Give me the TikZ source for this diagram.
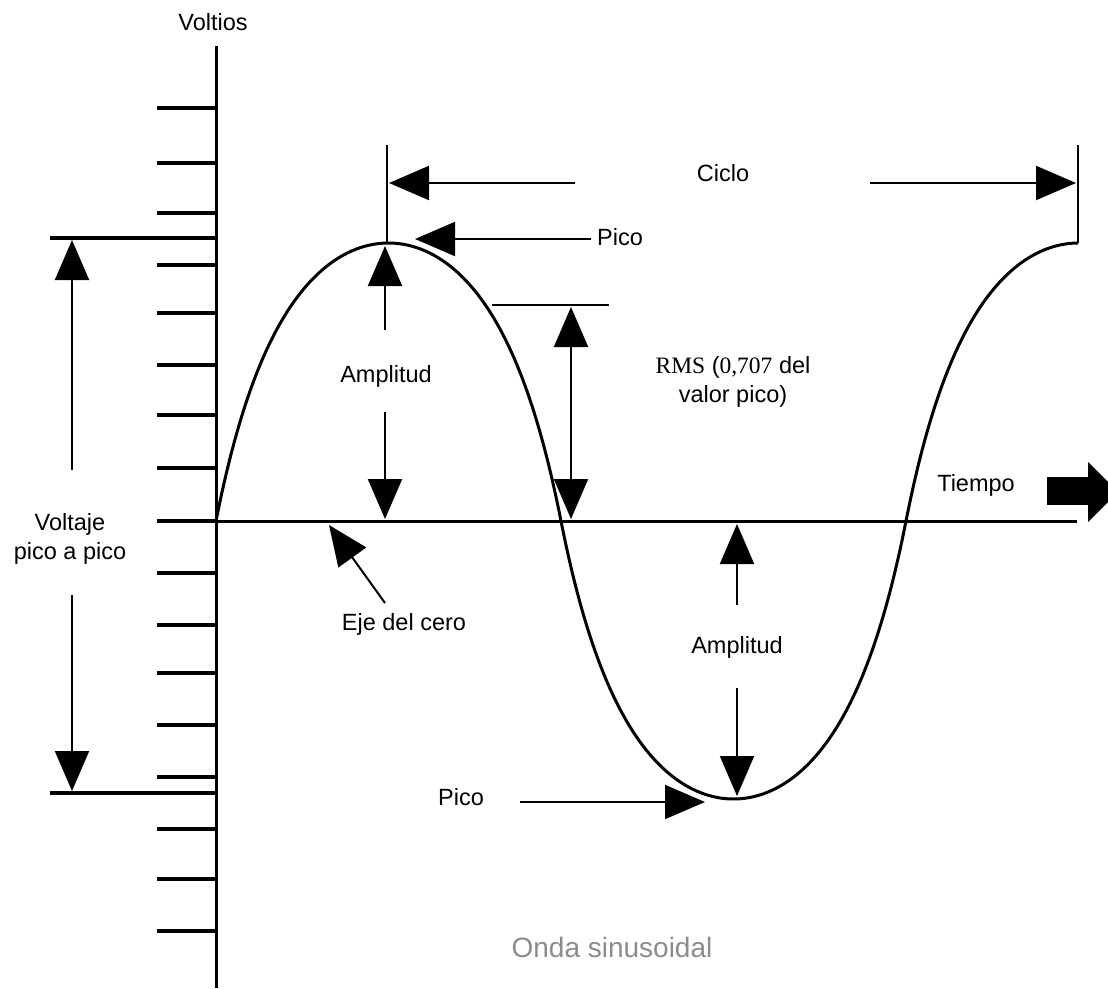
\documentclass[tikz,border=0pt]{standalone}
\usepackage{fontspec}
\setmainfont{Liberation Sans}
\newfontfamily\rmsfont{Liberation Serif}
\usetikzlibrary{arrows.meta}

\begin{document}
\begin{tikzpicture}[x=1pt, y=-1pt,
    lbl/.style={font=\fontsize{23.5}{29}\selectfont, align=center, inner sep=0pt},
    pointer/.style={-{Triangle[length=40pt, width=34pt]}, line width=2pt},
    twoway/.style={{Triangle[length=40pt, width=34pt]}-{Triangle[length=40pt, width=34pt]}, line width=2pt},
    tickline/.style={line width=3.5pt}]
    \useasboundingbox (0,0) rectangle (1108,988);
    % Draw axes
    \coordinate (vtop) at (216, 46);
    \coordinate (vbot) at (216, 988);
    \coordinate (origin) at (216, 521);
    \coordinate (hend) at (1077, 521);
    \coordinate (ppos) at (50, 238);
    \coordinate (pneg) at (50, 793);
    \draw [line width=3pt] (vtop) -- (vbot);
    \draw [line width=3pt] (origin) -- (hend);
    \foreach \y in {108,163,213,265,313,365,415,468,521,573,625,673,725,777,829,879,931}
        \draw [tickline] (157, \y) -- (216, \y);
    \draw [tickline] (ppos) -- (216, 238);
    \draw [tickline] (pneg) -- (216, 793);
    \node [lbl] (voltlabel) at (213, 22) {Voltios};
    % Wave, a little squarer than a sine
    \draw [line width=3pt, line join=round, domain=0:862, samples=300, smooth]
        plot ({216+\x}, {521-556*sin(\x/345*180)/(1+abs(sin(\x/345*180)))});
    % Cycle
    \coordinate (cstart) at (387, 145);
    \coordinate (cpeak) at (387, 243);
    \coordinate (cend) at (1078, 145);
    \coordinate (cendpeak) at (1078, 243);
    \draw [line width=2pt] (cstart) -- (cpeak);
    \draw [line width=2pt] (cend) -- (cendpeak);
    \node [lbl] (ciclolabel) at (723, 173) {Ciclo};
    \draw [pointer] (575, 183) -- (389, 183);
    \draw [pointer] (870, 183) -- (1076, 183);
    % Peaks
    \node [lbl] (picotop) at (620, 237) {Pico};
    \draw [pointer] (591, 239) -- (415, 239);
    \node [lbl] (picobot) at (461, 797) {Pico};
    \draw [pointer] (520, 802) -- (705, 802);
    % Amplitude
    \node [lbl] (amptop) at (386, 376) {Amplitud};
    \draw [pointer] (385, 330) -- (385, 246);
    \draw [pointer] (385, 412) -- (385, 519);
    \node [lbl] (ampbot) at (737, 647) {Amplitud};
    \draw [pointer] (737, 605) -- (737, 524);
    \draw [pointer] (737, 688) -- (737, 796);
    % RMS
    \coordinate (rmsa) at (492, 305);
    \coordinate (rmsb) at (609, 305);
    \draw [line width=2pt] (rmsa) -- (rmsb);
    \draw [twoway] (571, 307) -- (571, 519);
    \node [lbl] (rmslabel) at (733, 382) {{\rmsfont RMS} ({\rmsfont 0,707} del\\ valor pico)};
    % Peak to peak
    \node [lbl] (ppvlabel) at (70, 539) {Voltaje\\pico a pico};
    \draw [pointer] (72, 470) -- (72, 240);
    \draw [pointer] (72, 595) -- (72, 791);
    % Zero axis
    \node [lbl] (ejelabel) at (404, 624) {Eje del cero};
    \draw [pointer] (385, 603) -- (329, 525);
    % Time
    \node [lbl] (tiempolabel) at (976, 485) {Tiempo};
    \fill (1047, 477) rectangle (1090, 505);
    \fill (1088, 462) -- (1118, 492) -- (1088, 522) -- cycle;
    % Caption
    \node [font=\fontsize{28}{32}\selectfont, text=black!45, inner sep=0pt] (caption) at (612, 947) {Onda sinusoidal};
\end{tikzpicture}
\end{document}
